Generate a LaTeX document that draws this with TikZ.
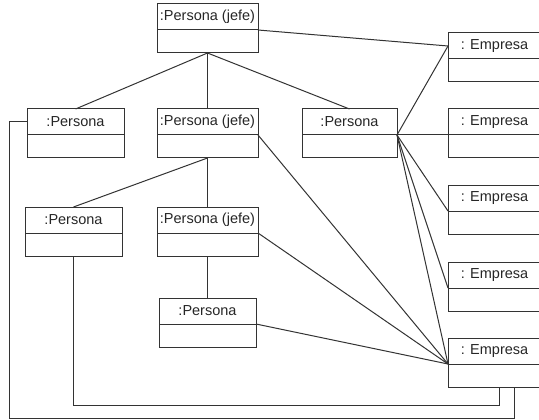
\documentclass[tikz,border=0pt]{standalone}
\usepackage{fontspec}
\setsansfont{Liberation Sans}
\usetikzlibrary{positioning}
\tikzstyle{head} = [draw=black!80, line width=1pt, rectangle, anchor=north west, minimum height=26, inner sep=0pt, outer sep=0pt, font=\sffamily\fontsize{14.5}{16}\selectfont, text=black!85]
\tikzstyle{body} = [draw=black!80, line width=1pt, rectangle, minimum height=23, inner sep=0pt, outer sep=0pt]
\tikzstyle{link} = [draw=black!80, line width=1pt]
\tikzstyle{point} = [coordinate]

\begin{document}
\begin{tikzpicture}[x=1pt, y=-1pt, node distance=0pt]
    \useasboundingbox (0,0) rectangle (539,420);
    % Persons
    \node [head, minimum width=101] (jefe0) at (157,4) {:Persona (jefe)};
    \node [body, minimum width=101, below=of jefe0] (jefe0b) {};
    \node [head, minimum width=97] (persA) at (27,109) {:Persona};
    \node [body, minimum width=97, below=of persA] (persAb) {};
    \node [head, minimum width=101] (jefeA) at (157,109) {:Persona (jefe)};
    \node [body, minimum width=101, below=of jefeA] (jefeAb) {};
    \node [head, minimum width=95] (persB) at (302,109) {:Persona};
    \node [body, minimum width=95, below=of persB] (persBb) {};
    \node [head, minimum width=97] (persC) at (25,207) {:Persona};
    \node [body, minimum width=97, below=of persC] (persCb) {};
    \node [head, minimum width=101] (jefeB) at (157,207) {:Persona (jefe)};
    \node [body, minimum width=101, below=of jefeB] (jefeBb) {};
    \node [head, minimum width=97] (persD) at (159,298) {:Persona};
    \node [body, minimum width=97, below=of persD] (persDb) {};
    % Companies
    \node [head, minimum width=93] (emp1) at (448,33) {: Empresa};
    \node [body, minimum width=93, below=of emp1] (emp1b) {};
    \node [head, minimum width=93] (emp2) at (448,109) {: Empresa};
    \node [body, minimum width=93, below=of emp2] (emp2b) {};
    \node [head, minimum width=93] (emp3) at (448,185) {: Empresa};
    \node [body, minimum width=93, below=of emp3] (emp3b) {};
    \node [head, minimum width=93] (emp4) at (448,262) {: Empresa};
    \node [body, minimum width=93, below=of emp4] (emp4b) {};
    \node [head, minimum width=93] (emp5) at (448,338) {: Empresa};
    \node [body, minimum width=93, below=of emp5] (emp5b) {};
    \node [point] (inner) at (499,405) {};
    \node [point] (outer) at (514,418) {};

    % Hierarchy
    \draw [link] (jefe0b.south) -- (persA.north);
    \draw [link] (jefe0b.south) -- (jefeA.north);
    \draw [link] (jefe0b.south) -- (persB.north);
    \draw [link] (jefeAb.south) -- (persC.north);
    \draw [link] (jefeAb.south) -- (jefeB.north);
    \draw [link] (jefeBb.south) -- (persD.north);

    % Employment
    \draw [link] (jefe0.south east) -- (emp1.west);
    \draw [link] (persB.south east) -- (emp1.west);
    \draw [link] (persB.south east) -- (emp2.south west);
    \draw [link] (persB.south east) -- (emp3.south west);
    \draw [link] (persB.south east) -- (emp4.south west);
    \draw [link] (persB.south east) -- (emp5.south west);
    \draw [link] (jefeA.south east) -- (emp5.south west);
    \draw [link] (jefeB.south east) -- (emp5.south west);
    \draw [link] (persD.south east) -- (emp5.south west);
    \draw [link] (persCb.south) |- (inner) -- (inner |- emp5b.south);
    \draw [link] (persA.west) -- ++(-18,0) |- (outer) -- (outer |- emp5b.south);
\end{tikzpicture}
\end{document}
